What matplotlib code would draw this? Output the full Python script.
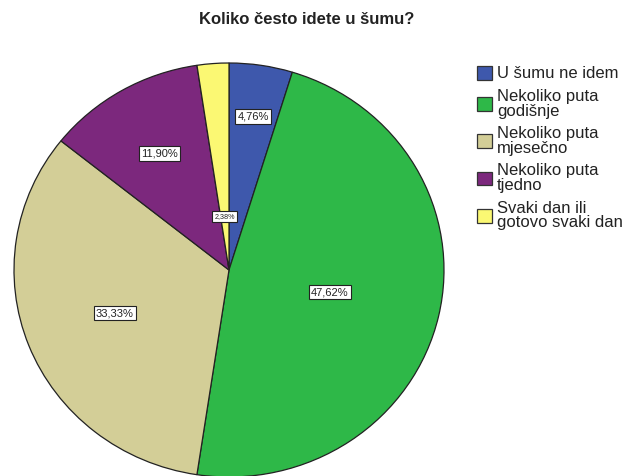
import matplotlib
matplotlib.use("Agg")
import numpy as np
import matplotlib.pyplot as plt
from matplotlib.patches import Patch

# Data
categories = ["U šumu ne idem", "Nekoliko puta\ngodišnje", "Nekoliko puta\nmjesečno",
              "Nekoliko puta\ntjedno", "Svaki dan ili\ngotovo svaki dan"]
percents = [4.76, 47.62, 33.33, 11.90, 2.38]
pct_labels = ["4,76%", "47,62%", "33,33%", "11,90%", "2,38%"]
colors = ["#3E58AC", "#2EB848", "#D3CE97", "#7C287D", "#FBF873"]

# radial position of each percentage box (fraction of radius)
label_r = [0.75, 0.48, 0.57, 0.65, 0.26]
label_size = [8, 8, 8, 8, 5.2]

plt.rcParams['font.family'] = ['Liberation Sans', 'DejaVu Sans']

fig = plt.figure(figsize=(6.25, 4.76), dpi=100)
ax = fig.add_axes([14/625, -1/476, 430/625, 414/476])

wedges, _ = ax.pie(percents, colors=colors, startangle=90, counterclock=False,
                   wedgeprops=dict(edgecolor="#222222", linewidth=0.9))
ax.set_aspect('auto')
ax.set_xlim(-1, 1)
ax.set_ylim(-1, 1)

for w, txt, r, fs in zip(wedges, pct_labels, label_r, label_size):
    ang = np.deg2rad((w.theta1 + w.theta2) / 2)
    ax.text(r * np.cos(ang), r * np.sin(ang), txt, ha="center", va="center",
            fontsize=fs, color="#222222",
            bbox=dict(facecolor="white", edgecolor="#222222", linewidth=0.8, pad=1.5))

fig.text(0.49, 0.958, "Koliko često idete u šumu?", ha="center", va="center",
         fontsize=12, fontweight="bold", color="#222222")

handles = [Patch(facecolor=c, edgecolor="#333333", linewidth=0.9) for c in colors]
leg = fig.legend(handles, categories, loc="upper left", bbox_to_anchor=(0.763, 0.862),
                 frameon=False, fontsize=12, handlelength=0.9, handleheight=0.9,
                 handletextpad=0.3, labelspacing=0.45, borderpad=0, borderaxespad=0)
for t in leg.get_texts():
    t.set_linespacing(0.98)
    t.set_color("#222222")

fig.savefig("out.png", dpi=100)
